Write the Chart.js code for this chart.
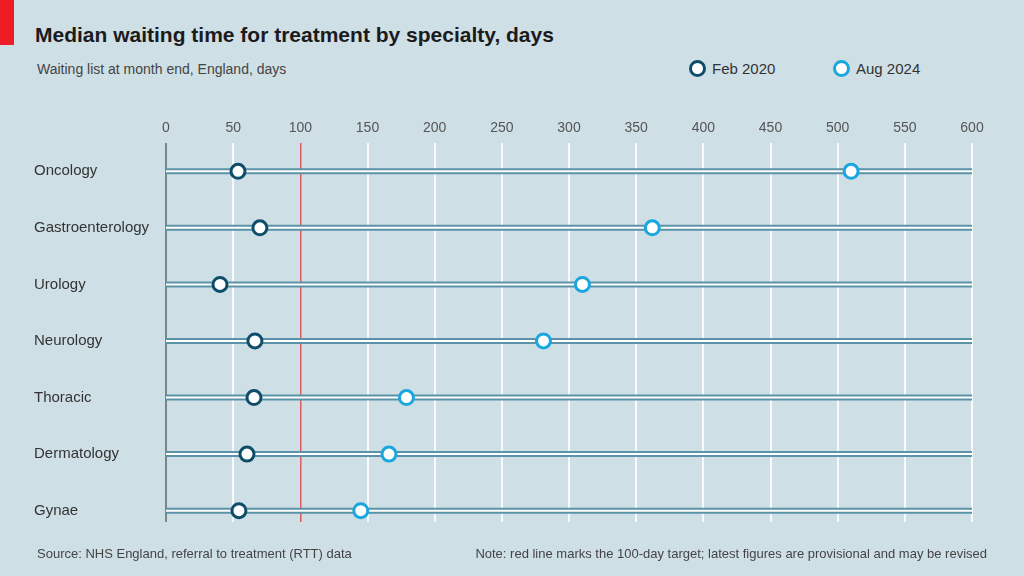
<!DOCTYPE html>
<html>
<head>
<meta charset="utf-8">
<script src="https://cdn.jsdelivr.net/npm/chart.js@4"></script>
<style>
  body { margin: 0; background: #cfdfe6; font-family: "Liberation Sans", Arial, sans-serif; }
  #wrap { position: relative; width: 1024px; height: 576px; overflow: hidden; }
  #accent { position: absolute; left: 0; top: 0; width: 14px; height: 45px; background: #ee1c25; }
  #title { position: absolute; left: 35px; top: 23px; font-size: 21px; font-weight: bold; color: #1b1b1b; white-space: nowrap; }
  #subtitle { position: absolute; left: 37px; top: 61px; font-size: 14px; color: #444; white-space: nowrap; }
  .leg { position: absolute; top: 60px; font-size: 15px; color: #333; white-space: nowrap; display: flex; align-items: center; }
  .dot { border-radius: 50%; background: #fff; border: 3px solid; margin-right: 6px; box-sizing: border-box; width: 17px; height: 17px; }
  #footL { position: absolute; left: 37px; top: 546px; font-size: 13px; color: #444; white-space: nowrap; }
  #footR { position: absolute; right: 37px; top: 546px; font-size: 13px; color: #444; white-space: nowrap; }
  canvas { position: absolute; left: 0; top: 0; }
</style>
</head>
<body>
<div id="wrap">
  <div id="accent"></div>
  <div id="title">Median waiting time for treatment by specialty, days</div>
  <div id="subtitle">Waiting list at month end, England, days</div>
  <div class="leg" style="left:689px"><span class="dot" style="border-color:#0e4d69"></span>Feb 2020</div>
  <div class="leg" style="left:833px"><span class="dot" style="border-color:#1aa6df"></span>Aug 2024</div>
  <canvas id="chart" width="1024" height="576"></canvas>
  <div id="footL">Source: NHS England, referral to treatment (RTT) data</div>
  <div id="footR">Note: red line marks the 100-day target; latest figures are provisional and may be revised</div>
</div>
<script>
const categories = ['Oncology', 'Gastroenterology', 'Urology', 'Neurology', 'Thoracic', 'Dermatology', 'Gynae'];
const before = [53.6, 69.9, 40.2, 66.2, 65.5, 60.3, 54.3];
const latest = [510, 362, 310, 281, 179, 166, 145];
const xTicks = [0, 50, 100, 150, 200, 250, 300, 350, 400, 450, 500, 550, 600];
const trackRange = [0, 600];
const targetValue = 100;

// track rows: a segment per category, broken by nulls
const trackData = [];
categories.forEach((c, i) => {
  trackData.push({ x: trackRange[0], y: i }, { x: trackRange[1], y: i }, { x: null, y: null });
});

const labelPlugin = {
  id: 'catLabels',
  afterDraw(chart) {
    const ctx = chart.ctx;
    const y = chart.scales.y;
    ctx.save();
    ctx.font = '15px "Liberation Sans", Arial, sans-serif';
    ctx.fillStyle = '#333';
    ctx.textAlign = 'left';
    ctx.textBaseline = 'middle';
    categories.forEach((c, i) => ctx.fillText(c, 34, y.getPixelForValue(i)));
    ctx.restore();
  }
};

new Chart(document.getElementById('chart'), {
  type: 'scatter',
  data: {
    datasets: [
      { type: 'line', data: trackData, borderColor: '#5a93a8', borderWidth: 6, pointRadius: 0, spanGaps: false, borderCapStyle: 'butt', order: 4 },
      { type: 'line', data: trackData, borderColor: '#ffffff', borderWidth: 2, pointRadius: 0, spanGaps: false, borderCapStyle: 'butt', order: 3 },
      { label: 'before', data: before.map((v, i) => ({ x: v, y: i })), pointRadius: 7, pointBorderWidth: 3,
        borderColor: '#0e4d69', backgroundColor: '#ffffff', order: 1 },
      { label: 'latest', data: latest.map((v, i) => ({ x: v, y: i })), pointRadius: 7, pointBorderWidth: 3,
        borderColor: '#1aa6df', backgroundColor: '#ffffff', order: 2 }
    ]
  },
  options: {
    responsive: false,
    animation: false,
    layout: { padding: { left: 166, right: 52, top: 113, bottom: 54 } },
    plugins: { legend: { display: false }, tooltip: { enabled: false } },
    scales: {
      x: {
        type: 'linear',
        position: 'top',
        min: xTicks[0],
        max: xTicks[xTicks.length - 1],
        afterBuildTicks: axis => { axis.ticks = xTicks.map(v => ({ value: v })); },
        afterFit: axis => { axis.height = 30; },
        ticks: { color: '#555', font: { size: 14, family: '"Liberation Sans", Arial, sans-serif' }, padding: 6, maxRotation: 0 },
        grid: {
          drawTicks: false,
          color: c => c.tick && c.tick.value === 0 ? '#7d8488' : (c.tick && c.tick.value === targetValue ? '#e05a5e' : '#f7fafb'),
          lineWidth: c => c.tick && c.tick.value === targetValue ? 1.5 : 2
        },
        border: { display: false }
      },
      y: {
        type: 'linear',
        display: false,
        reverse: true,
        min: -0.5,
        max: 6.2
      }
    }
  },
  plugins: [labelPlugin]
});
</script>
</body>
</html>
